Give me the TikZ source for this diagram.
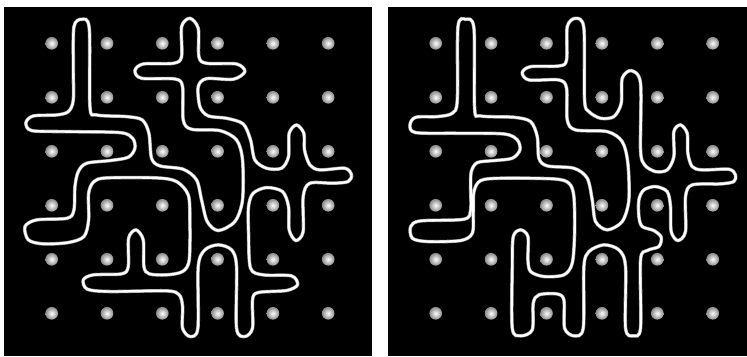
\documentclass[tikz,border=0pt]{standalone}
\usepackage{xcolor}
\definecolor{Spot}{HTML}{8A8A8A}
\definecolor{Halo}{HTML}{9C9C9C}

\begin{document}
\begin{tikzpicture}[
  x=0.03cm,y=-0.03cm,
  panel/.style={fill=black},
  spot/.style={circle,inner sep=0pt,minimum size=3.8mm,shade,inner color=white,outer color=Spot},
  strand/.style={draw=white,line width=2pt,line join=round,
    preaction={draw=Halo,line width=3pt}}
]
\useasboundingbox (0,0) rectangle (747,356);
\fill[white] (0,0) rectangle (747,356);
\fill[panel] (4,7) rectangle (372,356);
\fill[panel] (388,7) rectangle (747,356);

% grid of spots in both panels
\foreach \c in {0,...,5}
  \foreach \r in {0,...,5} {
    \node[spot] (l\c\r) at ({51.7+55.3*\c},{43.3+54*\r}) {};
    \node[spot] (r\c\r) at ({435.7+55.4*\c},{43.3+54*\r}) {};
  }

% left loop
\begin{scope}[x=0.01cm,y=-0.01cm]
\draw[strand] plot[smooth cycle] coordinates {
  (245,58) (222,80) (220,200) (220,300) (205,335) (170,345) (100,348) (78,368)
  (95,392) (200,395) (360,398) (398,415) (405,445) (385,472) (330,482) (260,490)
  (235,515) (225,560) (222,630) (202,655) (110,660) (75,680) (85,720) (130,732)
  (205,728) (252,710) (266,660) (266,580) (282,545) (320,534) (470,534) (530,545)
  (565,585) (570,660) (568,780) (548,815) (500,825) (448,822) (432,800) (430,720)
  (408,690) (386,715) (385,800) (365,822) (280,825) (250,840) (262,868) (330,875)
  (500,873) (538,885) (548,920) (548,985) (570,1010) (594,985) (595,800) (615,750)
  (655,735) (695,750) (710,800) (710,985) (735,1010) (758,985) (758,900) (775,878)
  (860,872) (893,855) (875,828) (790,825) (752,805) (746,700) (746,620) (760,580)
  (800,563) (848,575) (866,620) (868,690) (888,722) (910,695) (910,590) (930,550)
  (1000,550) (1045,545) (1055,525) (1035,505) (960,510) (930,495) (914,450) (912,400)
  (890,375) (868,400) (866,470) (845,505) (800,505) (765,480) (752,420) (730,372)
  (680,355) (625,348) (600,320) (595,260) (620,236) (700,238) (735,215) (710,192)
  (620,190) (597,170) (595,85) (570,55) (545,80) (545,170) (520,190) (430,192)
  (405,212) (425,235) (525,237) (548,260) (550,360) (575,388) (660,392) (710,420)
  (728,480) (728,600) (705,665) (655,692) (622,665) (605,600) (590,540) (550,508)
  (480,498) (455,475) (447,400) (427,360) (380,350) (290,345) (270,320) (268,85)
};
\end{scope}

% right loop
\begin{scope}[xshift=11.22cm,x=0.01cm,y=-0.01cm]
\draw[strand] plot[smooth cycle] coordinates {
  (275,58) (252,80) (250,300) (235,340) (190,350) (125,352) (108,375) (125,398)
  (250,400) (390,402) (430,420) (438,450) (415,475) (360,482) (310,488) (292,515)
  (290,560) (290,630) (270,658) (140,663) (110,680) (115,715) (160,725) (260,722)
  (295,700) (298,640) (300,575) (320,542) (380,535) (540,537) (585,550) (600,590)
  (602,700) (595,790) (570,825) (510,830) (470,815) (462,780) (462,710) (440,690)
  (418,710) (415,800) (415,985) (440,1008) (475,990) (478,910) (495,885) (548,882)
  (570,900) (572,985) (600,1008) (628,985) (630,800) (645,755) (690,735) (735,750)
  (755,800) (755,985) (778,1008) (800,985) (800,780) (820,752) (855,740) (862,712)
  (840,692) (805,680) (795,650) (795,600) (810,570) (845,560) (880,575) (890,620)
  (892,695) (912,722) (935,695) (935,590) (955,555) (1040,552) (1080,545) (1085,525)
  (1065,508) (985,510) (955,500) (942,460) (940,400) (920,375) (900,395) (900,470)
  (880,510) (845,515) (812,495) (800,450) (800,250) (772,212) (745,235) (742,310)
  (720,350) (680,355) (645,335) (632,300) (630,85) (605,55) (580,80) (578,180)
  (555,198) (470,200) (445,218) (465,240) (555,240) (578,265) (580,360) (605,390)
  (700,395) (745,425) (762,490) (765,600) (745,665) (700,690) (665,665) (655,600)
  (640,535) (600,505) (520,498) (495,475) (490,410) (470,365) (420,352) (320,348)
  (302,325) (300,85)
};
\end{scope}
\end{tikzpicture}
\end{document}
